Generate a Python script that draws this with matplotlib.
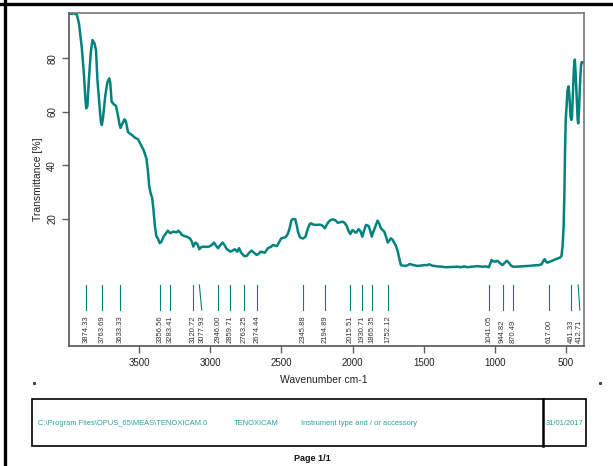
import matplotlib.pyplot as plt
from matplotlib.lines import Line2D
from matplotlib.patches import Rectangle

plt.rcParams['font.family'] = ['Liberation Sans', 'DejaVu Sans']

teal = '#00827f'
text_teal = '#2e9f9c'

# spectrum: wavenumber (cm-1) and transmittance (%)
wavenumber = [
    3992, 3975, 3960, 3940, 3925, 3905, 3890, 3880, 3874, 3866, 3855, 3842, 3830, 3815,
    3805, 3795, 3780, 3770, 3764, 3755, 3740, 3725, 3712, 3705, 3695, 3680, 3665, 3650,
    3640, 3633, 3620, 3605, 3595, 3580, 3565, 3550, 3530, 3510, 3495, 3470, 3450, 3440,
    3430, 3420, 3410, 3400, 3390, 3380, 3370, 3357, 3345, 3330, 3315, 3300, 3283, 3260,
    3240, 3225, 3210, 3200, 3180, 3166, 3145, 3130, 3121, 3105, 3090, 3078, 3065, 3050,
    3030, 3010, 2990, 2975, 2960, 2946, 2930, 2914, 2900, 2885, 2860, 2845, 2828, 2812,
    2798, 2785, 2763, 2745, 2725, 2711, 2695, 2675, 2660, 2648, 2630, 2618, 2595, 2575,
    2560, 2532, 2515, 2501, 2471, 2455, 2443, 2430, 2420, 2403, 2392, 2384, 2370, 2355,
    2346, 2331, 2314, 2300, 2291, 2275, 2256, 2235, 2221, 2205, 2195, 2180, 2170, 2155,
    2139, 2120, 2104, 2085, 2069, 2055, 2041, 2028, 2016, 2000, 1985, 1975, 1957, 1945,
    1931, 1920, 1905, 1887, 1875, 1865, 1852, 1840, 1824, 1810, 1800, 1777, 1765, 1752,
    1740, 1730, 1718, 1707, 1695, 1684, 1672, 1660, 1645, 1625, 1610, 1597, 1580, 1560,
    1544, 1520, 1500, 1474, 1460, 1440, 1400, 1370, 1345, 1300, 1260, 1240, 1215, 1190,
    1160, 1120, 1085, 1060, 1050, 1041, 1032, 1022, 1010, 995, 980, 965, 945, 930,
    915, 900, 885, 870, 850, 820, 790, 760, 720, 690, 670, 655, 648, 640,
    630, 617, 600, 580, 560, 540, 530, 522, 515, 510, 505, 500, 494, 488,
    480, 474, 466, 461, 456, 449, 442, 436, 430, 422, 416, 412, 407, 400,
    393, 388, 378,
]
transmittance = [
    96.6, 96.6, 96.8, 96.3, 93.0, 84.0, 74.0, 65.0, 61.3, 62.0, 72.0, 82.0, 86.8, 85.5,
    83.0, 72.0, 62.0, 56.0, 55.1, 58.0, 66.0, 71.0, 72.5, 71.0, 63.8, 62.8, 62.3, 58.5,
    55.5, 54.0, 55.5, 57.2, 56.5, 52.5, 51.8, 51.3, 50.3, 49.8, 48.3, 45.7, 42.5, 38.0,
    32.0, 29.5, 28.0, 23.0, 17.0, 13.5, 12.8, 11.0, 11.5, 13.4, 14.5, 15.6, 14.7, 15.3,
    15.0, 15.6, 14.8, 14.0, 13.6, 13.4, 12.8, 11.5, 9.7, 11.2, 10.5, 8.7, 9.5, 9.7,
    9.6, 9.7, 10.3, 11.2, 10.0, 9.1, 10.3, 11.2, 10.2, 8.8, 7.8, 8.2, 8.7, 7.8,
    9.1, 7.5, 6.2, 6.2, 7.5, 8.2, 7.5, 6.6, 7.0, 7.8, 7.6, 7.4, 9.1, 9.6,
    10.3, 9.9, 11.5, 12.8, 13.2, 14.5, 16.5, 19.5, 20.0, 19.9, 17.5, 15.3, 13.2, 12.8,
    12.8, 13.4, 16.5, 18.2, 18.4, 17.9, 17.8, 17.9, 17.8, 17.2, 16.5, 18.0, 18.8, 19.6,
    19.9, 19.5, 18.6, 18.8, 19.0, 18.5, 17.4, 15.5, 14.4, 15.9, 15.2, 14.9, 16.2, 15.5,
    13.4, 15.5, 17.8, 17.4, 15.5, 13.4, 15.5, 17.1, 19.4, 18.0, 16.5, 15.3, 13.5, 11.2,
    12.0, 12.8, 12.2, 11.2, 10.0, 8.4, 5.5, 2.8, 2.6, 2.5, 2.8, 3.2, 2.9, 2.7,
    2.5, 2.6, 2.8, 2.8, 3.1, 2.6, 2.3, 2.2, 2.0, 2.1, 2.2, 2.0, 2.3, 2.0,
    2.2, 2.4, 2.2, 2.3, 2.1, 2.0, 3.2, 4.7, 4.2, 4.1, 4.4, 3.6, 2.8, 3.6,
    4.4, 3.7, 2.6, 2.2, 2.2, 2.3, 2.4, 2.5, 2.7, 2.8, 3.1, 4.6, 5.0, 4.2,
    3.7, 4.0, 4.3, 4.8, 5.2, 5.6, 6.2, 10.0, 17.0, 28.0, 45.0, 57.0, 62.0, 68.0,
    69.5, 66.0, 58.0, 57.0, 58.0, 68.0, 77.0, 79.5, 74.0, 64.0, 57.0, 55.7, 60.0, 70.0,
    77.0, 78.5, 78.5,
]

peaks = [3874.33, 3763.69, 3633.33, 3356.56, 3283.41, 3120.72, 3077.93, 2946.00,
         2859.71, 2763.25, 2674.44, 2345.88, 2194.89, 2015.51, 1930.71, 1865.35,
         1752.12, 1041.05, 944.82, 870.49, 617.00, 461.33, 412.71]
# label shift where two labels would collide
label_shift = [0, 0, 0, 0, 0, 0, -17, 0, 0, 0, 0, 0, 0, 0, 0, 0, 0, 0, 0, 0, 0, 0, -12]

W, H = 613, 466
fig = plt.figure(figsize=(W / 100, H / 100), dpi=100)


def fx(px):
    return px / W


def fy(py):
    return 1 - py / H


ax = fig.add_axes([fx(69), fy(346), fx(583.5) - fx(69), fy(12.7) - fy(346)])
ax.plot(wavenumber, transmittance, color=teal, lw=1.8, solid_joinstyle='round')

for p, s in zip(peaks, label_shift):
    ax.plot([p, p + s], [-4.6, -14.0], color=teal, lw=0.8)
    ax.text(p + s, -26.3, f"{p:.2f}", rotation=90, ha='center', va='bottom',
            fontsize=5.5, color='#333333')

ax.set_xlim(3995, 375)
ax.set_ylim(-27.4, 97.0)
ax.set_xticks([3500, 3000, 2500, 2000, 1500, 1000, 500])
ax.set_yticks([20, 40, 60, 80])
ax.tick_params(axis='both', labelsize=7, colors='#606060', labelcolor='#222222',
               length=5, width=1)
plt.setp(ax.get_yticklabels(), rotation=90, va='center')
for side in ['left', 'bottom']:
    ax.spines[side].set_color('#555555')
    ax.spines[side].set_linewidth(1.2)
for side in ['top', 'right']:
    ax.spines[side].set_color('#777777')
    ax.spines[side].set_linewidth(1.2)
ax.set_ylabel('Transmittance [%]', fontsize=7.5, color='#222222', labelpad=3)

fig.text(fx(324), fy(380), 'Wavenumber cm-1', fontsize=7.5, ha='center', va='center',
         color='#222222')

# page border (top and left)
fig.add_artist(Line2D([0, 1], [fy(3.5), fy(3.5)], color='black', lw=2.4))
fig.add_artist(Line2D([fx(4.5), fx(4.5)], [0, 1], color='black', lw=2.4))

# small marks
fig.add_artist(Line2D([fx(34.3)], [fy(383.3)], marker='s', ms=1.2, color='#444444', lw=0))
fig.add_artist(Line2D([fx(599.7)], [fy(383.3)], marker='s', ms=1.2, color='#444444', lw=0))

# info box
fig.add_artist(Rectangle((fx(32.3), fy(445.7)), fx(585.7) - fx(32.3), fy(399.3) - fy(445.7),
                         fill=False, edgecolor='black', lw=1.2))
fig.add_artist(Line2D([fx(543), fx(543)], [fy(399.3), fy(445.7)], color='black', lw=1.8))
ty = fy(423.3)
fig.text(fx(38), ty, 'C:\\Program Files\\OPUS_65\\MEAS\\TENOXICAM.0', fontsize=5.4,
         color=text_teal, va='center')
fig.text(fx(233.3), ty, 'TENOXICAM', fontsize=5.4, color=text_teal, va='center')
fig.text(fx(300.7), ty, 'Instrument type and / or accessory', fontsize=5.4,
         color=text_teal, va='center')
fig.text(fx(565), ty, '31/01/2017', fontsize=5.4, color=text_teal, va='center', ha='center')

fig.text(fx(312), fy(458.3), 'Page 1/1', fontsize=6.5, fontweight='bold', ha='center',
         va='center', color='#111111')

fig.savefig('out.png', dpi=100)
